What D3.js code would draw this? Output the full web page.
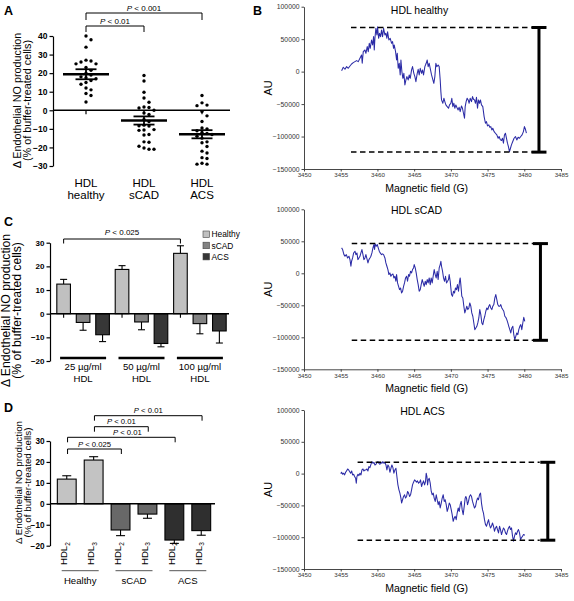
<!DOCTYPE html>
<html><head><meta charset="utf-8">
<script src="https://cdn.jsdelivr.net/npm/d3@7"></script>
<style>body{margin:0;background:#fff}svg{display:block}</style>
</head><body><svg id="c" width="574" height="601"></svg>
<script>
// ---------------- DATA ----------------
// Panel A: individual values (% of buffer-treated cells)
const groupsA = ["HDL healthy", "HDL sCAD", "HDL ACS"];
const pointsHealthy = [40, 38, 34, 27, 26.5, 26, 25, 25, 23, 21.5, 20, 19, 18, 17.5, 17, 16, 15, 14, 12, 11, 9, 8, 4.5];
const pointsSCAD = [18.7, 15.8, 9.7, 6.6, 4.3, 1.8, 1.5, 1.2, 0, -1.5, -2.3, -5, -6, -8, -8.3, -8.5, -10.4, -10.6, -10.8, -13, -13.3, -17, -17.2, -19.4, -20.3, -21, -21];
const pointsACS = [8, 4, 2.8, 2.5, -0.7, -3, -6, -9.5, -10, -11, -12, -12.5, -13, -14, -15, -17, -17.5, -19.5, -22, -23, -25.5, -26, -28.5, -29, -29];
const meanA = [19.4, -5.5, -12.9];
const semA = [2.7, 2.2, 2.2];
const ticksA = [-30, -20, -10, 0, 10, 20, 30, 40];
const bracketsA = [{from: 0, to: 2, label: "< 0.001"}, {from: 0, to: 1, label: "< 0.01"}];

// Panel C: dose response
const concentrationsC = ["25 µg/ml", "50 µg/ml", "100 µg/ml"];
const groupsC = ["Healthy", "sCAD", "ACS"];
const meanHealthyC = [12.5, 18.7, 25.5];
const semHealthyC = [2.0, 1.6, 3.2];
const meanSCADC = [-3.7, -3.5, -4.2];
const semSCADC = [3.3, 3.3, 4.3];
const meanACSC = [-8.9, -12.6, -7.3];
const semACSC = [2.9, 1.4, 5.1];
const ticksC = [-20, -10, 0, 10, 20, 30];

// Panel D: HDL subfractions
const groupsD = ["Healthy", "sCAD", "ACS"];
const subfractionsD = ["2", "3"];
const meanHDL2D = [11.8, -12.5, -17.3];
const semHDL2D = [1.6, 2.7, 1.6];
const meanHDL3D = [20.9, -4.9, -12.8];
const semHDL3D = [1.6, 2.0, 2.2];
const ticksD = [-20, -10, 0, 10, 20, 30];
const bracketsD = [
  {from: 1, to: 5, label: "< 0.01"},
  {from: 1, to: 3, label: "< 0.01"},
  {from: 0, to: 4, label: "< 0.01"},
  {from: 0, to: 2, label: "< 0.025"}
];

// Panel B: ESR spectra [magnetic field (G), AU in thousands]
const spectrumTitles = ["HDL healthy", "HDL sCAD", "HDL ACS"];
const specHealthy = [[3455.12,1.5],[3455.35,6.7],[3455.58,3.6],[3455.80,7.7],[3456.03,5.1],[3456.26,8.7],[3456.48,11.8],[3456.71,13.8],[3456.94,15.4],[3457.16,16.9],[3457.39,15.4],[3457.62,20.5],[3457.84,25.6],[3457.93,12.8],[3458.07,30.8],[3458.30,33.3],[3458.43,28.2],[3458.61,38.5],[3458.75,30.8],[3458.89,43.6],[3459.02,35.9],[3459.20,48.7],[3459.34,41.0],[3459.48,53.9],[3459.57,33.3],[3459.66,51.3],[3459.79,66.7],[3459.93,56.4],[3460.02,69.2],[3460.16,51.3],[3460.29,59.0],[3460.43,53.9],[3460.56,64.1],[3460.70,53.9],[3460.84,66.7],[3461.02,56.4],[3461.15,59.0],[3461.29,51.3],[3461.38,61.5],[3461.56,48.7],[3461.74,51.3],[3461.93,43.6],[3462.06,46.2],[3462.20,35.9],[3462.29,41.0],[3462.47,30.8],[3462.61,17.9],[3462.70,28.2],[3462.83,5.1],[3462.97,12.8],[3463.10,-5.1],[3463.20,17.9],[3463.33,0.0],[3463.47,-10.3],[3463.60,-2.6],[3463.74,-20.5],[3463.88,-12.8],[3464.01,-7.7],[3464.19,-12.8],[3464.33,-5.1],[3464.47,-10.3],[3464.65,2.6],[3464.78,7.7],[3464.96,-2.6],[3465.10,-7.7],[3465.24,-15.4],[3465.42,-2.6],[3465.55,3.6],[3465.69,-5.1],[3465.83,5.1],[3466.01,-2.6],[3466.14,2.6],[3466.28,-5.1],[3466.46,7.7],[3466.64,12.8],[3466.78,17.9],[3466.91,7.7],[3467.05,12.8],[3467.19,5.1],[3467.37,-5.1],[3467.50,-10.3],[3467.68,-18.0],[3467.82,-7.7],[3467.96,12.8],[3468.09,7.7],[3468.27,10.2],[3468.41,7.7],[3468.55,-12.8],[3468.64,-30.8],[3468.73,-43.6],[3468.91,-48.7],[3469.05,-41.0],[3469.18,-46.2],[3469.32,-51.3],[3469.50,-53.9],[3469.68,-56.4],[3469.82,-51.3],[3470.00,-48.7],[3470.13,-41.0],[3470.27,-53.9],[3470.41,-48.7],[3470.54,-56.4],[3470.68,-51.3],[3470.81,-54.9],[3470.99,-59.0],[3471.13,-54.9],[3471.27,-61.6],[3471.45,-52.9],[3471.58,-56.4],[3471.72,-64.1],[3471.86,-71.8],[3471.95,-53.9],[3472.08,-46.2],[3472.22,-41.0],[3472.36,-43.6],[3472.49,-48.7],[3472.63,-41.0],[3472.81,-46.2],[3472.95,-38.5],[3473.08,-42.6],[3473.22,-43.6],[3473.35,-48.7],[3473.49,-39.5],[3473.63,-56.4],[3473.76,-43.6],[3473.90,-48.7],[3474.03,-43.6],[3474.17,-51.3],[3474.35,-53.9],[3474.53,-69.3],[3474.71,-79.5],[3474.85,-77.0],[3474.99,-83.6],[3475.17,-82.1],[3475.30,-85.7],[3475.44,-84.7],[3475.58,-89.8],[3475.71,-87.2],[3475.89,-92.4],[3476.07,-94.9],[3476.26,-97.5],[3476.44,-102.6],[3476.57,-100.0],[3476.71,-104.2],[3476.89,-106.2],[3477.03,-102.6],[3477.16,-110.3],[3477.30,-97.5],[3477.43,-94.9],[3477.57,-102.6],[3477.71,-110.3],[3477.84,-115.4],[3477.98,-123.1],[3478.12,-118.0],[3478.25,-112.9],[3478.43,-107.7],[3478.61,-102.6],[3478.80,-100.0],[3478.98,-105.2],[3479.16,-101.1],[3479.34,-102.6],[3479.52,-100.0],[3479.70,-97.5],[3479.88,-92.4],[3480.02,-84.7],[3480.16,-88.8],[3480.29,-94.9]];
const specSCAD = [[3455.12,39.7],[3455.26,37.1],[3455.44,29.2],[3455.58,26.6],[3455.76,29.2],[3455.94,24.0],[3456.12,26.6],[3456.26,21.4],[3456.39,11.0],[3456.48,18.8],[3456.62,24.0],[3456.76,31.8],[3456.94,34.5],[3457.07,29.2],[3457.21,31.8],[3457.34,21.4],[3457.48,24.0],[3457.62,26.6],[3457.75,31.8],[3457.89,37.1],[3458.03,29.2],[3458.16,21.4],[3458.30,24.0],[3458.43,29.2],[3458.57,23.0],[3458.71,16.2],[3458.84,21.4],[3458.98,24.0],[3459.11,26.6],[3459.25,31.8],[3459.39,39.7],[3459.52,44.9],[3459.61,37.1],[3459.70,45.9],[3459.84,42.3],[3459.98,44.9],[3460.11,39.7],[3460.25,34.5],[3460.38,31.8],[3460.56,29.2],[3460.70,30.3],[3460.84,29.2],[3461.02,24.0],[3461.15,16.2],[3461.29,11.0],[3461.43,5.8],[3461.56,-2.0],[3461.70,0.6],[3461.83,-4.6],[3461.97,-2.0],[3462.11,-1.0],[3462.24,-7.2],[3462.38,-4.6],[3462.51,-12.4],[3462.61,-2.0],[3462.74,-15.0],[3462.88,-20.3],[3463.01,-25.5],[3463.15,-22.9],[3463.29,-30.7],[3463.42,-28.1],[3463.56,-20.3],[3463.69,-15.0],[3463.83,-7.2],[3463.97,-4.6],[3464.10,-12.4],[3464.24,-2.0],[3464.37,-4.6],[3464.51,3.2],[3464.65,0.6],[3464.78,5.8],[3464.92,8.4],[3465.01,13.6],[3465.15,8.4],[3465.28,0.6],[3465.42,-9.8],[3465.55,-17.7],[3465.69,-28.1],[3465.83,-25.5],[3465.96,-17.7],[3466.10,-9.8],[3466.23,-15.0],[3466.37,-20.3],[3466.51,-12.4],[3466.64,-17.7],[3466.78,-9.8],[3466.91,-15.0],[3467.05,-7.2],[3467.19,-17.7],[3467.32,-7.2],[3467.46,-15.0],[3467.59,-4.6],[3467.73,5.8],[3467.87,-2.0],[3468.00,-7.2],[3468.14,3.2],[3468.27,-9.8],[3468.41,8.4],[3468.55,13.6],[3468.64,18.8],[3468.73,11.0],[3468.87,3.2],[3469.00,-7.2],[3469.14,-12.4],[3469.27,-4.6],[3469.41,-15.0],[3469.55,-12.4],[3469.68,-9.8],[3469.77,-2.0],[3469.91,-12.4],[3470.00,-22.9],[3470.09,-33.3],[3470.22,-35.9],[3470.36,-28.1],[3470.50,-30.7],[3470.63,-22.9],[3470.77,-25.5],[3470.90,-17.7],[3471.04,-28.1],[3471.18,-12.4],[3471.27,-7.2],[3471.36,-17.7],[3471.49,-35.9],[3471.63,-38.5],[3471.77,-51.5],[3471.90,-61.9],[3472.04,-56.7],[3472.17,-51.5],[3472.31,-56.7],[3472.45,-54.1],[3472.58,-46.3],[3472.72,-51.5],[3472.85,-61.9],[3472.99,-67.1],[3473.13,-77.6],[3473.26,-88.0],[3473.40,-85.4],[3473.54,-82.8],[3473.67,-77.6],[3473.81,-69.8],[3473.94,-56.7],[3474.08,-64.5],[3474.22,-77.6],[3474.35,-80.2],[3474.49,-72.4],[3474.62,-67.1],[3474.76,-59.3],[3474.90,-54.1],[3475.03,-56.7],[3475.17,-51.5],[3475.30,-48.9],[3475.44,-54.1],[3475.58,-56.7],[3475.71,-51.5],[3475.85,-48.9],[3475.99,-38.5],[3476.12,-33.3],[3476.26,-41.1],[3476.39,-48.9],[3476.53,-51.5],[3476.67,-51.5],[3476.80,-48.9],[3476.94,-54.1],[3477.07,-56.7],[3477.21,-59.3],[3477.35,-67.1],[3477.48,-68.7],[3477.62,-72.4],[3477.76,-77.6],[3477.89,-82.8],[3478.03,-88.0],[3478.16,-93.2],[3478.30,-85.4],[3478.44,-82.8],[3478.57,-95.8],[3478.71,-103.6],[3478.84,-98.4],[3478.98,-93.2],[3479.12,-95.8],[3479.25,-88.0],[3479.39,-82.8],[3479.53,-80.2],[3479.66,-88.0],[3479.80,-77.6],[3479.93,-68.7],[3480.07,-75.0]];
const specACS = [[3455.00,0.0],[3455.12,2.1],[3455.26,-1.0],[3455.40,0.6],[3455.53,-2.0],[3455.67,2.1],[3455.80,4.2],[3455.94,7.3],[3456.08,5.8],[3456.21,3.2],[3456.35,0.6],[3456.49,4.2],[3456.62,-2.0],[3456.76,-1.0],[3456.89,-4.6],[3457.03,-7.3],[3457.12,-15.1],[3457.21,-4.6],[3457.35,-1.0],[3457.48,-3.1],[3457.62,0.6],[3457.76,-2.0],[3457.89,5.8],[3458.03,7.3],[3458.16,4.2],[3458.30,5.8],[3458.44,5.8],[3458.57,7.3],[3458.71,4.2],[3458.84,11.0],[3458.98,9.4],[3459.12,14.6],[3459.25,18.8],[3459.39,16.2],[3459.52,17.8],[3459.66,13.6],[3459.80,14.6],[3459.93,17.2],[3460.07,18.8],[3460.20,16.2],[3460.34,14.6],[3460.48,17.8],[3460.61,16.2],[3460.75,18.8],[3460.88,16.2],[3461.02,17.8],[3461.16,13.6],[3461.29,5.8],[3461.43,13.6],[3461.56,11.0],[3461.70,2.1],[3461.84,8.4],[3461.97,13.6],[3462.11,9.4],[3462.24,0.6],[3462.38,5.8],[3462.52,8.4],[3462.65,-4.6],[3462.79,-17.7],[3462.93,-25.5],[3463.06,-30.7],[3463.20,-38.5],[3463.29,-46.3],[3463.42,-41.1],[3463.56,-35.9],[3463.70,-33.3],[3463.83,-38.5],[3463.97,-35.9],[3464.11,-28.1],[3464.24,-30.7],[3464.38,-35.9],[3464.51,-33.3],[3464.65,-25.5],[3464.78,-17.7],[3464.92,-13.5],[3465.06,-9.9],[3465.19,-11.4],[3465.33,-13.5],[3465.46,-11.4],[3465.60,-15.1],[3465.74,-13.5],[3465.87,-9.9],[3466.01,-20.3],[3466.15,-15.1],[3466.28,-11.4],[3466.42,-17.7],[3466.55,-12.5],[3466.64,0.6],[3466.74,-4.6],[3466.83,-17.7],[3466.92,-9.9],[3467.05,-7.3],[3467.19,-15.1],[3467.33,-28.1],[3467.46,-33.3],[3467.60,-30.7],[3467.73,-38.5],[3467.87,-43.7],[3468.01,-33.3],[3468.14,-41.1],[3468.28,-48.9],[3468.41,-43.7],[3468.55,-54.1],[3468.69,-46.3],[3468.82,-38.5],[3468.96,-33.3],[3469.10,-43.7],[3469.23,-41.1],[3469.37,-48.9],[3469.50,-59.4],[3469.64,-54.1],[3469.78,-46.3],[3469.91,-48.9],[3470.05,-56.7],[3470.18,-64.6],[3470.32,-75.0],[3470.46,-69.8],[3470.59,-67.2],[3470.73,-72.4],[3470.86,-62.0],[3471.00,-54.1],[3471.14,-59.4],[3471.27,-48.9],[3471.41,-43.7],[3471.54,-56.7],[3471.68,-64.6],[3471.82,-51.5],[3471.95,-38.5],[3472.04,-35.9],[3472.13,-38.5],[3472.27,-48.9],[3472.40,-43.7],[3472.54,-35.9],[3472.68,-33.3],[3472.81,-35.9],[3472.95,-43.7],[3473.08,-48.9],[3473.22,-54.1],[3473.36,-51.5],[3473.49,-43.7],[3473.63,-38.5],[3473.76,-41.1],[3473.90,-33.3],[3474.04,-30.7],[3474.17,-46.3],[3474.31,-56.7],[3474.44,-62.0],[3474.58,-72.4],[3474.72,-80.2],[3474.85,-82.8],[3474.99,-77.6],[3475.13,-72.4],[3475.26,-80.2],[3475.40,-85.4],[3475.53,-82.8],[3475.67,-77.6],[3475.81,-82.8],[3475.94,-90.6],[3476.08,-85.4],[3476.22,-82.8],[3476.35,-88.0],[3476.49,-93.2],[3476.63,-82.8],[3476.76,-88.0],[3476.90,-95.8],[3477.03,-90.6],[3477.17,-85.4],[3477.31,-88.0],[3477.44,-93.2],[3477.58,-95.8],[3477.71,-90.6],[3477.85,-85.4],[3477.99,-82.8],[3478.12,-88.0],[3478.26,-85.4],[3478.40,-98.4],[3478.53,-106.2],[3478.67,-98.4],[3478.80,-93.2],[3478.94,-95.8],[3479.08,-90.6],[3479.21,-88.0],[3479.35,-93.2],[3479.49,-103.6],[3479.62,-101.0],[3479.76,-98.4],[3479.90,-95.8],[3480.08,-96.9]];
const peakMax = [68000, 46400, 17800];
const peakMin = [-124000, -104700, -104700];
const dashStart = [3456.4, 3456.5, 3457.3];
const dashEnd = [3481.0, 3481.2, 3482.1];
const rangeBarField = [3482.0, 3482.2, 3483.2];
const ticksBy = [-150000, -100000, -50000, 0, 50000, 100000];
const ticksBx = [3450, 3455, 3460, 3465, 3470, 3475, 3480, 3485];

// ---------------- DRAWING ----------------
const FONT = "Arial, 'Liberation Sans', Helvetica, sans-serif";
const svg = d3.select("#c").attr("font-family", FONT);

function styleAxis(g, size, bold, color, lw) {
  g.attr("font-family", FONT).attr("font-size", size);
  g.select(".domain").attr("stroke", color).attr("stroke-width", lw);
  g.selectAll(".tick line").attr("stroke", color).attr("stroke-width", lw);
  g.selectAll(".tick text").attr("fill", "#000").attr("font-weight", bold ? "bold" : "normal");
}
function pText(g, x, y, rest, size) {
  const t = g.append("text").attr("x", x).attr("y", y).attr("text-anchor", "middle")
    .attr("font-size", size).attr("font-family", FONT);
  t.append("tspan").attr("font-style", "italic").text("P");
  t.append("tspan").text(" " + rest);
}
function bracket(g, x1, x2, y, drop) {
  g.append("path").attr("d", `M${x1},${y + drop}V${y}H${x2}V${y + drop}`)
    .attr("fill", "none").attr("stroke", "#000").attr("stroke-width", 1);
}
function yLabel(g, x1, x2, cy, size) {
  g.append("text").attr("transform", `translate(${x1},${cy}) rotate(-90)`).attr("text-anchor", "middle")
    .attr("font-size", size).text("Δ Endothelial NO production");
  g.append("text").attr("transform", `translate(${x2},${cy}) rotate(-90)`).attr("text-anchor", "middle")
    .attr("font-size", size).text("(% of buffer-treated cells)");
}
function dodge(vals, y, step, minDist) {
  const placed = [];
  return vals.map(v => {
    const py = y(v);
    for (let k = 0; k < 30; k++) {
      const off = k === 0 ? 0 : (k % 2 === 1 ? 1 : -1) * Math.ceil(k / 2) * step;
      if (placed.every(p => Math.hypot(p.x - off, p.y - py) >= minDist)) {
        placed.push({x: off, y: py}); return off;
      }
    }
    return 0;
  });
}

// panel letters
[["A", 4, 15], ["B", 253, 15], ["C", 4, 226], ["D", 4, 412]].forEach(([l, x, y]) =>
  svg.append("text").attr("x", x).attr("y", y).attr("font-size", 12.5).attr("font-weight", "bold").text(l));

// ===== Panel A =====
{
  const g = svg.append("g");
  const y = d3.scaleLinear().domain([-30, 40]).range([166, 36]);
  const x = d3.scalePoint().domain(groupsA).range([86, 202]);
  const ax = g.append("g").attr("transform", "translate(53,0)")
    .call(d3.axisLeft(y).tickValues(ticksA).tickSize(3.5).tickSizeOuter(0).tickPadding(2).tickFormat(d3.format("d")));
  styleAxis(ax, 8.5, true, "#000", 1.2);
  g.append("line").attr("x1", 53).attr("x2", 230).attr("y1", y(0)).attr("y2", y(0)).attr("stroke", "#000").attr("stroke-width", 1.5);
  groupsA.forEach(c => g.append("line").attr("x1", x(c)).attr("x2", x(c)).attr("y1", y(0)).attr("y2", y(0) + 4).attr("stroke", "#000").attr("stroke-width", 1.2));
  [pointsHealthy, pointsSCAD, pointsACS].forEach((pts, i) => {
    const offs = dodge(pts, y, 5, 4.6);
    g.selectAll(null).data(pts).enter().append("circle")
      .attr("cx", (d, j) => x(groupsA[i]) + offs[j]).attr("cy", d => y(d)).attr("r", 1.7).attr("fill", "#000");
    const cx = x(groupsA[i]);
    g.append("line").attr("x1", cx - 23).attr("x2", cx + 23).attr("y1", y(meanA[i])).attr("y2", y(meanA[i])).attr("stroke", "#000").attr("stroke-width", 2.6);
    g.append("line").attr("x1", cx).attr("x2", cx).attr("y1", y(meanA[i] - semA[i])).attr("y2", y(meanA[i] + semA[i])).attr("stroke", "#000").attr("stroke-width", 1.8);
    [meanA[i] - semA[i], meanA[i] + semA[i]].forEach(v =>
      g.append("line").attr("x1", cx - 10.5).attr("x2", cx + 10.5).attr("y1", y(v)).attr("y2", y(v)).attr("stroke", "#000").attr("stroke-width", 1.8));
    const words = groupsA[i].split(" ");
    const t = g.append("text").attr("text-anchor", "middle").attr("font-size", 11.5);
    t.append("tspan").attr("x", cx).attr("y", 187).text(words[0]);
    t.append("tspan").attr("x", cx).attr("dy", 11.8).text(words[1]);
  });
  const by = [13, 26], drop = [7, 6], ty = [10.5, 23.5];
  bracketsA.forEach((b, i) => {
    const x1 = x(groupsA[b.from]), x2 = x(groupsA[b.to]);
    bracket(g, x1, x2, by[i], drop[i]);
    pText(g, (x1 + x2) / 2, ty[i], b.label, 8);
  });
  yLabel(g, 20.5, 31, 100.5, 10.8);
}

// ===== Panel C =====
{
  const g = svg.append("g");
  const y = d3.scaleLinear().domain([-20, 30]).range([361, 242.7]);
  const meansC = [meanHealthyC, meanSCADC, meanACSC];
  const semsC = [semHealthyC, semSCADC, semACSC];
  const bars = [];
  concentrationsC.forEach((c, ci) => groupsC.forEach((gr, gi) =>
    bars.push({key: c + "|" + gr, conc: ci, grp: gi, mean: meansC[gi][ci], sem: semsC[gi][ci]})));
  const x = d3.scaleBand().domain(bars.map(b => b.key)).range([50, 233]).paddingInner(0.3).paddingOuter(0.35);
  const colorC = d3.scaleOrdinal().domain(groupsC).range(["#c0c0c0", "#838383", "#373737"]);
  const ax = g.append("g").attr("transform", "translate(50,0)")
    .call(d3.axisLeft(y).tickValues(ticksC).tickSize(3.5).tickSizeOuter(0).tickPadding(2).tickFormat(d3.format("d")));
  styleAxis(ax, 8, true, "#000", 1.2);
  const bw = x.bandwidth();
  bars.forEach(b => g.append("line").attr("x1", x(b.key) + bw / 2).attr("x2", x(b.key) + bw / 2)
    .attr("y1", y(0)).attr("y2", y(0) + 4).attr("stroke", "#000").attr("stroke-width", 1.1));
  bars.forEach(b => {
    const cx = x(b.key) + bw / 2;
    const end = b.mean >= 0 ? b.mean + b.sem : b.mean - b.sem;
    g.append("line").attr("x1", cx).attr("x2", cx).attr("y1", y(b.mean)).attr("y2", y(end)).attr("stroke", "#000").attr("stroke-width", 1.1);
    g.append("line").attr("x1", cx - 3.5).attr("x2", cx + 3.5).attr("y1", y(end)).attr("y2", y(end)).attr("stroke", "#000").attr("stroke-width", 1.1);
  });
  g.selectAll(null).data(bars).enter().append("rect")
    .attr("x", d => x(d.key)).attr("width", bw)
    .attr("y", d => y(Math.max(0, d.mean))).attr("height", d => Math.abs(y(d.mean) - y(0)))
    .attr("fill", d => colorC(groupsC[d.grp])).attr("stroke", "#000").attr("stroke-width", 1.1);
  g.append("line").attr("x1", 50).attr("x2", 229).attr("y1", y(0)).attr("y2", y(0)).attr("stroke", "#000").attr("stroke-width", 1.5);
  concentrationsC.forEach((c, ci) => {
    const cx = x(c + "|" + groupsC[1]) + bw / 2;
    g.append("line").attr("x1", cx - 23).attr("x2", cx + 23).attr("y1", 358).attr("y2", 358).attr("stroke", "#000").attr("stroke-width", 2.4);
    const t = g.append("text").attr("text-anchor", "middle").attr("font-size", 9.6);
    t.append("tspan").attr("x", cx).attr("y", 370).text(c);
    t.append("tspan").attr("x", cx).attr("dy", 11.5).text("HDL");
  });
  const x1 = x(bars[0].key) + bw / 2, x2 = x(bars[6].key) + bw / 2;
  bracket(g, x1, x2, 239, 4.5);
  pText(g, (x1 + x2) / 2, 234.5, "< 0.025", 8);
  groupsC.forEach((gr, i) => {
    const ly = 231 + i * 11.2;
    g.append("rect").attr("x", 203).attr("y", ly).attr("width", 6.5).attr("height", 6.5)
      .attr("fill", colorC(gr)).attr("stroke", "#444").attr("stroke-width", 0.6);
    g.append("text").attr("x", 211.5).attr("y", ly + 6.3).attr("font-size", 8.4).text(gr);
  });
  yLabel(g, 10, 21, 310.5, 12.2);
}

// ===== Panel D =====
{
  const g = svg.append("g");
  const y = d3.scaleLinear().domain([-20, 30]).range([545.7, 441]);
  const bars = [];
  groupsD.forEach((gr, gi) => subfractionsD.forEach((s, si) =>
    bars.push({key: gr + "|" + s, grp: gi, sub: s, mean: (si === 0 ? meanHDL2D : meanHDL3D)[gi], sem: (si === 0 ? semHDL2D : semHDL3D)[gi]})));
  const x = d3.scaleBand().domain(bars.map(b => b.key)).range([53.3, 214.7]).paddingInner(0.3).paddingOuter(0.15);
  const colorD = d3.scaleOrdinal().domain(groupsD).range(["#c3c3c3", "#686868", "#2f2f2f"]);
  const ax = g.append("g").attr("transform", "translate(50,0)")
    .call(d3.axisLeft(y).tickValues(ticksD).tickSize(3.5).tickSizeOuter(0).tickPadding(2).tickFormat(d3.format("d")));
  styleAxis(ax, 8.2, true, "#000", 1.2);
  const bw = x.bandwidth();
  bars.forEach(b => {
    const cx = x(b.key) + bw / 2;
    const end = b.mean >= 0 ? b.mean + b.sem : b.mean - b.sem;
    g.append("line").attr("x1", cx).attr("x2", cx).attr("y1", y(b.mean)).attr("y2", y(end)).attr("stroke", "#000").attr("stroke-width", 1.1);
    g.append("line").attr("x1", cx - 4.5).attr("x2", cx + 4.5).attr("y1", y(end)).attr("y2", y(end)).attr("stroke", "#000").attr("stroke-width", 1.1);
  });
  g.selectAll(null).data(bars).enter().append("rect")
    .attr("x", d => x(d.key)).attr("width", bw)
    .attr("y", d => y(Math.max(0, d.mean))).attr("height", d => Math.abs(y(d.mean) - y(0)))
    .attr("fill", d => colorD(groupsD[d.grp])).attr("stroke", "#000").attr("stroke-width", 1.1);
  g.append("line").attr("x1", 50).attr("x2", 215).attr("y1", y(0)).attr("y2", y(0)).attr("stroke", "#000").attr("stroke-width", 1.5);
  bars.forEach(b => {
    const cx = x(b.key) + bw / 2;
    const t = g.append("text").attr("transform", `translate(${cx + 0.5},565) rotate(-90)`).attr("font-size", 9.6);
    t.append("tspan").text("HDL");
    t.append("tspan").attr("font-size", 6.5).attr("dy", 2.5).text(b.sub);
  });
  groupsD.forEach(gr => {
    const cx = (x(gr + "|2") + x(gr + "|3") + bw) / 2;
    g.append("line").attr("x1", cx - 18.5).attr("x2", cx + 18.5).attr("y1", 570.7).attr("y2", 570.7).attr("stroke", "#555").attr("stroke-width", 1);
    g.append("text").attr("x", cx).attr("y", 583.5).attr("text-anchor", "middle").attr("font-size", 9.6).text(gr);
  });
  const by = [415.7, 426.7, 437.3, 449];
  const tdx = [0, 0, 6, 0];
  bracketsD.forEach((b, i) => {
    const x1 = x(bars[b.from].key) + bw / 2 + 0.8, x2 = x(bars[b.to].key) + bw / 2 + 0.8;
    bracket(g, x1, x2, by[i], 5);
    pText(g, (x1 + x2) / 2 + tdx[i], by[i] - 2.3, b.label, 7.7);
  });
  yLabel(g, 21.5, 31, 482.5, 9.8);
}

// ===== Panel B =====
{
  const specs = [specHealthy, specSCAD, specACS];
  const frames = [[6.7, 169], [209.3, 369.3], [410, 569]];
  const titleX = [419.5, 416.5, 422.5];
  const titleY = [14, 214, 415];
  const x = d3.scaleLinear().domain([3450, 3485]).range([304, 561]);
  specs.forEach((spec, i) => {
    const g = svg.append("g");
    const [top, bot] = frames[i];
    const y = d3.scaleLinear().domain([-150000, 100000]).range([bot, top]);
    const ay = g.append("g").attr("transform", "translate(304,0)")
      .call(d3.axisLeft(y).tickValues(ticksBy).tickSize(2.5).tickSizeOuter(0).tickPadding(2).tickFormat(d3.format("d")));
    styleAxis(ay, 6.8, false, "#333", 0.9);
    ay.selectAll(".tick text").attr("fill", "#333");
    const axb = g.append("g").attr("transform", `translate(0,${bot})`)
      .call(d3.axisBottom(x).tickValues(ticksBx).tickSize(2.5).tickSizeOuter(0).tickPadding(1.5).tickFormat(d3.format("d")));
    styleAxis(axb, 6.2, false, "#333", 0.9);
    axb.selectAll(".tick text").attr("fill", "#333");
    g.append("path").datum(spec).attr("fill", "none").attr("stroke", "#2b2ba6").attr("stroke-width", 1.05)
      .attr("stroke-linejoin", "round")
      .attr("d", d3.line().x(d => x(d[0])).y(d => y(d[1] * 1000)));
    [peakMax[i], peakMin[i]].forEach(v =>
      g.append("line").attr("x1", x(dashStart[i])).attr("x2", x(dashEnd[i])).attr("y1", y(v)).attr("y2", y(v))
        .attr("stroke", "#000").attr("stroke-width", 1.5).attr("stroke-dasharray", "5.5,3.5"));
    const bx = x(rangeBarField[i]);
    g.append("line").attr("x1", bx).attr("x2", bx).attr("y1", y(peakMax[i])).attr("y2", y(peakMin[i])).attr("stroke", "#000").attr("stroke-width", 3);
    [peakMax[i], peakMin[i]].forEach(v =>
      g.append("line").attr("x1", bx - 7.5).attr("x2", bx + 7.5).attr("y1", y(v)).attr("y2", y(v)).attr("stroke", "#000").attr("stroke-width", 3));
    g.append("text").attr("x", titleX[i]).attr("y", titleY[i]).attr("text-anchor", "middle").attr("font-size", 10.5).text(spectrumTitles[i]);
    g.append("text").attr("x", 426.7).attr("y", bot + 23).attr("text-anchor", "middle").attr("font-size", 10.5).text("Magnetic field (G)");
    g.append("text").attr("transform", `translate(271.5,${(top + bot) / 2}) rotate(-90)`).attr("text-anchor", "middle").attr("font-size", 11).text("AU");
  });
}
</script></body></html>
